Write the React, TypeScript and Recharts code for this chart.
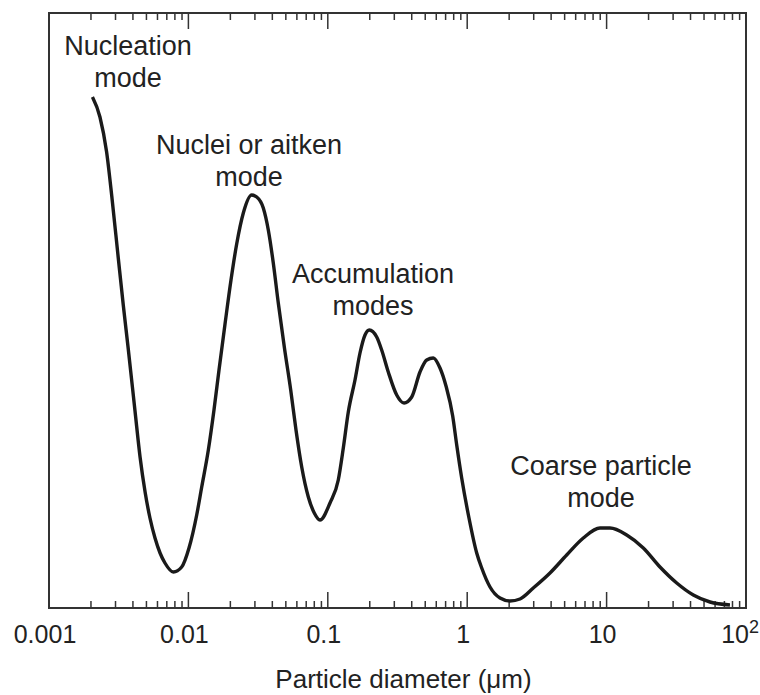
import { LineChart, Line, XAxis, YAxis, ReferenceDot, ReferenceArea, ReferenceLine } from 'recharts';

// particle diameter (um) and relative number concentration (arbitrary units)
const diameter = [
  0.00205, 0.00232, 0.00259, 0.00282, 0.00314, 0.00341, 0.00371, 0.00414, 0.0045, 0.00489,
  0.0053, 0.00576, 0.00626, 0.00679, 0.0078, 0.00895, 0.0101, 0.01147, 0.01246, 0.0139,
  0.01526, 0.01658, 0.01831, 0.02021, 0.0222, 0.02477, 0.02845, 0.0309, 0.03446, 0.03743,
  0.04064, 0.04414, 0.04875, 0.05419, 0.05914, 0.065, 0.0725, 0.08, 0.0879, 0.1037,
  0.1189, 0.1292, 0.1403, 0.1567, 0.1702, 0.1849, 0.1984, 0.2243, 0.2435, 0.2716,
  0.3121, 0.3521, 0.3999, 0.4585, 0.5124, 0.5711, 0.638, 0.7046, 0.787, 0.841,
  0.913, 1.03, 1.17, 1.271, 1.458, 1.719, 2.028, 2.392, 2.98, 3.926,
  5.172, 6.804, 8.967, 10.58, 13.94, 18.34, 24.15, 31.84, 41.88, 55.18, 76.7,
];
const concentration = [
  511, 491, 456, 412, 350, 303, 258, 197, 151, 116,
  90, 70, 55, 45, 36, 41, 60, 93, 121, 158,
  198, 238, 284, 328, 364, 395, 413, 411, 400, 378,
  345, 305, 261, 218, 178, 141, 111, 95, 88, 105,
  128, 160, 196, 228, 255, 273, 278, 271, 258, 236,
  213, 205, 211, 236, 248, 250, 240, 222, 192, 163,
  130, 90, 55, 40, 21, 10, 7, 9, 20, 35,
  53, 70, 80, 80, 73, 60, 41, 25, 13, 6, 3,
];

const majorTicks = [0.001, 0.01, 0.1, 1, 10, 100];
const tickLabels = ['0.001', '0.01', '0.1', '1', '10', '10^2'];
const decades = [0.001, 0.01, 0.1, 1, 10];
const minorSteps = [2, 3, 4, 5, 6, 7, 8, 9];
const minorTicks = decades.flatMap((d) => minorSteps.map((m) => +(d * m).toPrecision(3)));

const annotationText = [
  ['Nucleation', 'mode'],
  ['Nuclei or aitken', 'mode'],
  ['Accumulation', 'modes'],
  ['Coarse particle', 'mode'],
];
const annotationX = [0.00369, 0.0272, 0.211, 9.12];
const annotationY = [553, 454, 325, 133];

const data = diameter.map((d, i) => ({ d, n: concentration[i] }));

const FONT = '"Liberation Sans", Arial, Helvetica, sans-serif';
const TEXT = '#222';
const DOMAIN: [number, number] = [0.001, 100];
const Y_DOMAIN: [number, number] = [0, 595];
const MAJOR_LEN = 16;
const MINOR_LEN = 7;

function XTick(props: any) {
  const { x, y, payload } = props;
  const idx = majorTicks.indexOf(payload.value);
  const label = tickLabels[idx] ?? String(payload.value);
  if (label.includes('^')) {
    const [base, sup] = label.split('^');
    return (
      <text x={x + 13} y={y + 35} textAnchor="end" fontSize={25} fontFamily={FONT} fill={TEXT}>
        {base}
        <tspan dy={-10} fontSize={18}>{sup}</tspan>
      </text>
    );
  }
  return (
    <text x={x - 4} y={y + 35} textAnchor="middle" fontSize={25} fontFamily={FONT} fill={TEXT}>
      {label}
    </text>
  );
}

function Annotation(props: any) {
  const { cx, cy, lines } = props;
  return (
    <text x={cx} y={cy} textAnchor="middle" fontSize={27} fontFamily={FONT} fill={TEXT}>
      {lines.map((l: string, i: number) => (
        <tspan key={i} x={cx} dy={i === 0 ? 0 : 32}>{l}</tspan>
      ))}
    </text>
  );
}

// inward tick marks on the bottom and top edges
const tickMarks = (ticks: number[], len: number, key: string) =>
  ticks.flatMap((t) => [
    <ReferenceLine key={`${key}b${t}`} yAxisId="left" segment={[{ x: t, y: Y_DOMAIN[0] }, { x: t, y: Y_DOMAIN[0] + len }]}
      stroke="#333" strokeWidth={1.5} ifOverflow="visible" />,
    <ReferenceLine key={`${key}t${t}`} yAxisId="left" segment={[{ x: t, y: Y_DOMAIN[1] }, { x: t, y: Y_DOMAIN[1] - len }]}
      stroke="#333" strokeWidth={1.5} ifOverflow="visible" />,
  ]);

export default function App() {
  return (
    <div style={{ position: 'absolute', left: 0, top: 0, width: 760, height: 695, background: '#fff' }}>
      <LineChart width={760} height={695} data={data} margin={{ top: 13, right: 14, bottom: 0, left: 49 }}>
        <XAxis orientation="bottom" type="number" dataKey="d" scale="log" domain={DOMAIN}
          allowDataOverflow ticks={majorTicks} interval={0} tick={XTick} tickLine={false} tickSize={0}
          tickMargin={0} height={87} axisLine={false}
          label={{ value: 'Particle diameter (μm)', position: 'insideBottom', offset: 7, dx: 6, fontSize: 26, fontFamily: FONT, fill: TEXT }} />
        <YAxis yAxisId="left" type="number" domain={Y_DOMAIN} allowDataOverflow hide />
        <ReferenceArea yAxisId="left" x1={DOMAIN[0]} x2={DOMAIN[1]} y1={Y_DOMAIN[0]} y2={Y_DOMAIN[1]}
          fill="none" fillOpacity={0} stroke="#333" strokeWidth={2} ifOverflow="visible" />
        {tickMarks(majorTicks, MAJOR_LEN, 'M')}
        {tickMarks(minorTicks, MINOR_LEN, 'm')}
        <Line yAxisId="left" type="monotone" dataKey="n" stroke="#1a1a1a" strokeWidth={3.4}
          dot={false} isAnimationActive={false} />
        {annotationText.map((lines, i) => (
          <ReferenceDot key={i} yAxisId="left" x={annotationX[i]} y={annotationY[i]} r={0}
            shape={(p: any) => <Annotation {...p} lines={lines} />} />
        ))}
      </LineChart>
    </div>
  );
}
